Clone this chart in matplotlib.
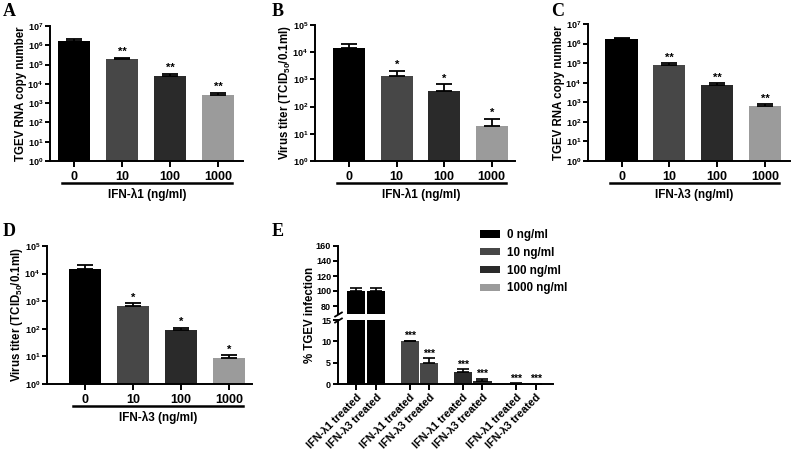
import matplotlib
matplotlib.use("Agg")
import matplotlib.pyplot as plt
import numpy as np
from matplotlib.transforms import blended_transform_factory, ScaledTranslation
from matplotlib.patches import Patch

plt.rcParams['font.family'] = ['Liberation Sans', 'DejaVu Sans']
plt.rcParams['font.weight'] = 'bold'
plt.rcParams['mathtext.fontset'] = 'custom'
plt.rcParams['mathtext.rm'] = 'Liberation Sans:bold'
plt.rcParams['mathtext.it'] = 'Liberation Sans:bold'
plt.rcParams['mathtext.bf'] = 'Liberation Sans:bold'

# ---------------- data ----------------
doses = ["0", "10", "100", "1000"]
colors = ["#000000", "#474747", "#2a2a2a", "#9b9b9b"]

A_mean = [1.75e6, 2.0e5, 2.6e4, 2.8e3]
A_upper = [2.05e6, 2.3e5, 3.4e4, 3.4e3]
A_stars = ["", "**", "**", "**"]

B_mean = [1.45e4, 1.35e3, 3.9e2, 1.95e1]
B_upper = [2.05e4, 2.05e3, 6.5e2, 3.6e1]
B_stars = ["", "*", "*", "*"]

C_mean = [1.7e6, 8.4e4, 7.3e3, 6.5e2]
C_upper = [2.0e6, 9.8e4, 9.6e3, 7.9e2]
C_stars = ["", "**", "**", "**"]

D_mean = [1.45e4, 6.6e2, 8.8e1, 8.5]
D_upper = [2.05e4, 8.3e2, 1.1e2, 1.1e1]
D_stars = ["", "*", "*", "*"]

E_groups = ["0 ng/ml", "10 ng/ml", "100 ng/ml", "1000 ng/ml"]
E_l1_mean = [100.0, 10.0, 2.7, 0.1]
E_l1_upper = [103.5, 10.15, 3.4, 0.15]
E_l3_mean = [100.0, 5.0, 0.7, 0.05]
E_l3_upper = [103.5, 6.0, 1.2, 0.1]
E_stars = ["", "***", "***", "***"]
E_ticklabels = ["IFN-λ1 treated", "IFN-λ3 treated"]

W, H = 800, 450
fig = plt.figure(figsize=(8, 4.5), dpi=100)

def px_axes(l, t, r, b):
    return fig.add_axes([l / W, 1 - b / H, (r - l) / W, (b - t) / H])

SPW = 1.4

def style(ax):
    for s in ["top", "right"]:
        ax.spines[s].set_visible(False)
    for s in ["left", "bottom"]:
        ax.spines[s].set_linewidth(SPW)
    ax.tick_params(width=SPW, length=3.5, labelsize=6.5, pad=1.5)

def log_panel(l, t, r, b, xlim, mean, upper, stars, ymax_exp, ylabel, xlabel,
              letter, letter_xy, ylabel_x, line_px):
    ax = px_axes(l, t, r, b)
    style(ax)
    x = np.arange(len(mean))
    ax.bar(x, mean, width=0.67, color=colors, bottom=0)
    err = np.array(upper) - np.array(mean)
    ax.errorbar(x, mean, yerr=[np.zeros_like(err), err], fmt='none',
                ecolor='black', elinewidth=1.3, capsize=6, capthick=1.3)
    ax.set_yscale('log')
    ax.set_ylim(1, 10 ** ymax_exp)
    ax.set_xlim(*xlim)
    ax.set_yticks([10 ** k for k in range(ymax_exp + 1)])
    ax.set_yticklabels([r'$10^{%d}$' % k for k in range(ymax_exp + 1)])
    ax.yaxis.set_minor_locator(matplotlib.ticker.NullLocator())
    ax.set_xticks(x)
    ax.set_xticklabels(doses, fontsize=9, fontweight='bold')
    ax.tick_params(axis='x', length=4, pad=3)
    for i, s in enumerate(stars):
        if s:
            ax.annotate(s, (x[i], upper[i]), xytext=(0, 0.5), textcoords='offset points',
                        ha='center', va='bottom', fontsize=8, fontweight='bold')
    tr = blended_transform_factory(ax.transData, ax.transAxes)
    tr_line = tr + ScaledTranslation(0, -line_px / 100, fig.dpi_scale_trans)
    ax.plot([-0.25, 3.3], [0, 0], color='black', lw=1.8, transform=tr_line, clip_on=False)
    tr_lab = tr + ScaledTranslation(0, -(line_px + 11) / 100, fig.dpi_scale_trans)
    ax.text(1.525, 0, xlabel, transform=tr_lab, ha='center', va='center',
            fontsize=8.5, fontweight='bold')
    fig.text(ylabel_x / W, 1 - (t + b) / 2 / H, ylabel, rotation=90, ha='center',
             va='center', fontsize=8.3, fontweight='bold')
    fig.text(letter_xy[0] / W, 1 - letter_xy[1] / H, letter, family='Liberation Serif',
             fontweight='bold', fontsize=13, ha='left', va='center')
    return ax

log_panel(50, 26, 243, 161, (-0.5, 3.52), A_mean, A_upper, A_stars, 7,
          "TGEV RNA copy number", "IFN-λ1 (ng/ml)", "A", (3, 12), 21, 22)
log_panel(315, 25, 515, 161, (-0.72, 3.49), B_mean, B_upper, B_stars, 5,
          r"Virus titer (TCID$_{50}$/0.1ml)", "IFN-λ1 (ng/ml)", "B", (272, 12), 285, 22)
log_panel(588, 24, 790, 161, (-0.70, 3.52), C_mean, C_upper, C_stars, 7,
          "TGEV RNA copy number", "IFN-λ3 (ng/ml)", "C", (551, 12), 559, 22)
log_panel(47, 246, 252, 384, (-0.79, 3.48), D_mean, D_upper, D_stars, 5,
          r"Virus titer (TCID$_{50}$/0.1ml)", "IFN-λ3 (ng/ml)", "D", (3, 232), 17, 22)

# ---------------- panel E (broken axis) ----------------
axU = px_axes(338, 246, 553, 313.5)
axL = px_axes(338, 320, 553, 384)
off = 0.185
bw = 0.34
g = np.arange(4)
xs1 = g - off
xs3 = g + off
for ax in (axU, axL):
    style(ax)
    ax.bar(xs1, E_l1_mean, width=bw, color=colors)
    ax.bar(xs3, E_l3_mean, width=bw, color=colors)
    e1 = np.array(E_l1_upper) - np.array(E_l1_mean)
    e3 = np.array(E_l3_upper) - np.array(E_l3_mean)
    ax.errorbar(xs1, E_l1_mean, yerr=[np.zeros(4), e1], fmt='none', ecolor='black',
                elinewidth=1.2, capsize=4.5, capthick=1.2)
    ax.errorbar(xs3, E_l3_mean, yerr=[np.zeros(4), e3], fmt='none', ecolor='black',
                elinewidth=1.2, capsize=4.5, capthick=1.2)
    ax.set_xlim(-0.53, 3.51)
axU.set_ylim(70, 160)
axU.set_yticks([80, 100, 120, 140, 160])
axU.spines['bottom'].set_visible(False)
axU.set_xticks([])
axL.set_ylim(0, 15)
axL.set_yticks([0, 5, 10, 15])
xt = np.concatenate([xs1, xs3])
order = np.argsort(xt)
axL.set_xticks(xt[order])
labs = [E_ticklabels[0]] * 4 + [E_ticklabels[1]] * 4
axL.set_xticklabels([labs[i] for i in order], rotation=45, ha='right', va='top',
                    rotation_mode='anchor', fontsize=7.8, fontweight='bold')
axL.tick_params(axis='x', length=4, pad=2)
for i, s in enumerate(E_stars):
    if s:
        axL.annotate(s, (xs1[i], E_l1_upper[i]), xytext=(0, 0), textcoords='offset points',
                     ha='center', va='bottom', fontsize=7.5, fontweight='bold')
        axL.annotate(s, (xs3[i], E_l3_upper[i]), xytext=(0, 0), textcoords='offset points',
                     ha='center', va='bottom', fontsize=7.5, fontweight='bold')
kw = dict(marker=[(-1, -0.6), (1, 0.6)], markersize=6, linestyle='none', color='k',
          mec='k', mew=1.3, clip_on=False)
axU.plot([0], [0], transform=axU.transAxes, **kw)
axL.plot([0], [1], transform=axL.transAxes, **kw)

fig.text(310 / W, 1 - 315 / H, "% TGEV infection", rotation=90, ha='center', va='center',
         fontsize=8.3, fontweight='bold')
fig.text(272 / W, 1 - 232 / H, "E", family='Liberation Serif', fontweight='bold',
         fontsize=13, ha='left', va='center')

handles = [Patch(facecolor=c, edgecolor='none') for c in colors]
fig.legend(handles, E_groups, loc='upper left', bbox_to_anchor=(480 / W, 1 - 229 / H),
           frameon=False, handlelength=1.7, handleheight=0.6,
           labelspacing=0.5, handletextpad=0.6, borderaxespad=0, borderpad=0,
           prop={'weight': 'bold', 'size': 8.4})

fig.savefig("out.png", dpi=100)
